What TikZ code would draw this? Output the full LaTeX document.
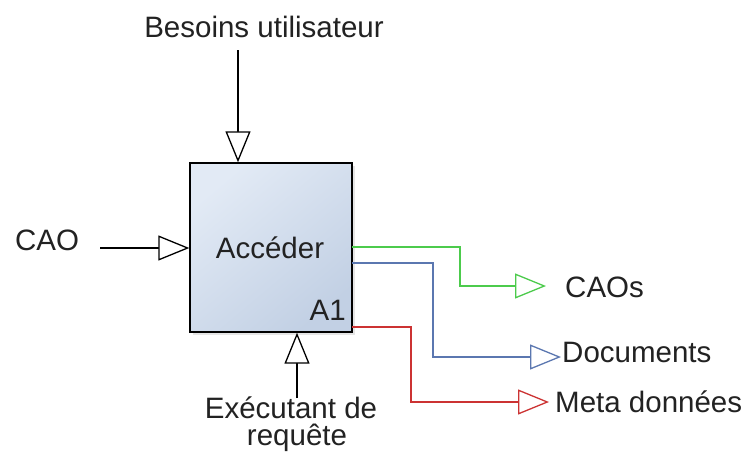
\documentclass[tikz,border=0pt]{standalone}
\usepackage{fontspec}
\setmainfont{Liberation Sans}
\usetikzlibrary{arrows.meta,shadows}
\definecolor{lgreen}{HTML}{4CCB4C}
\definecolor{lblue}{HTML}{5B77B0}
\definecolor{lred}{HTML}{CC3333}
\definecolor{txt}{HTML}{222222}
\begin{document}
\begin{tikzpicture}[x=1pt,y=-1pt,
  lbl/.style={inner sep=0pt,font=\fontsize{29.5}{34}\selectfont,text=txt},
  conn/.style={line width=1.3pt},
  tri/.style={-{Triangle[length=31pt,width=25pt,fill=white]}},
  box/.style={draw=black,line width=1.4pt,minimum width=162pt,minimum height=169pt,
    inner sep=0pt,shading=axis,top color={rgb,255:red,226;green,234;blue,245},
    bottom color={rgb,255:red,194;green,208;blue,228},shading angle=40,
    drop shadow={shadow xshift=2.5pt,shadow yshift=-2.5pt,opacity=0.2}}]
\useasboundingbox (0,0) rectangle (748,459);
\fill[white] (0,0) rectangle (748,459);

\node[box] (A) at (271,247.5) {};
\node[lbl,anchor=base] (acc) at (270,258) {Accéder};
\node[lbl,anchor=base east] (a1) at (346,320) {A1};

\node[lbl,anchor=base] (bes) at (264,37) {Besoins utilisateur};
\node[lbl,anchor=base] (cao) at (47,250) {CAO};
\node[lbl,anchor=base] (exe) at (291,418) {Exécutant de};
\node[lbl,anchor=base] (req) at (297,445) {requête};
\node[lbl,anchor=base west] (caos) at (565,297) {CAOs};
\node[lbl,anchor=base west] (docs) at (562,362) {Documents};
\node[lbl,anchor=base west] (meta) at (555,412) {Meta données};

\coordinate (t0) at (238,50);
\coordinate (l0) at (100,248);
\coordinate (b0) at (297,398);
\coordinate (g0) at (352,247);
\coordinate (u0) at (352,263);
\coordinate (r0) at (352,327);
\coordinate (gt) at (546,286);
\coordinate (ut) at (561,357);
\coordinate (rt) at (549,402);

\draw[conn,tri] (t0) -- (t0 |- A.north);
\draw[conn,tri] (l0) -- (l0 -| A.west);
\draw[conn,tri] (b0) -- (b0 |- A.south);
\draw[conn,tri,lgreen] (g0) -- (460,247) -- (460,286) -- (gt);
\draw[conn,tri,lblue] (u0) -- (433,263) -- (433,357) -- (ut);
\draw[conn,tri,lred] (r0) -- (411,327) -- (411,402) -- (rt);
\end{tikzpicture}
\end{document}
